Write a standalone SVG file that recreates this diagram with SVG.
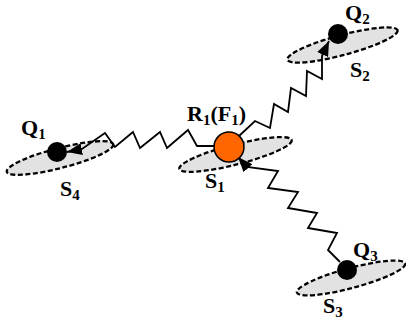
<svg xmlns="http://www.w3.org/2000/svg" width="406" height="325" viewBox="0 0 406 325">
<style>
.ell{fill:#e2e2e2;stroke:#000;stroke-width:2.3;stroke-dasharray:5 2.5}
.conn{fill:none;stroke:#000;stroke-width:1.8;stroke-linejoin:miter;marker-end:url(#arr)}
.dot{fill:#000}
.lbl{font-family:"Liberation Serif","Times New Roman",serif;font-weight:bold;font-size:22px;fill:#000}
.sub{font-size:15px}
</style>
<defs>
<marker id="arr" markerUnits="userSpaceOnUse" viewBox="0 0 15 12" refX="15" refY="6" markerWidth="15" markerHeight="12" orient="auto">
<path d="M0,0 L15,6 L0,12 z" fill="#000"/>
</marker>
</defs>
<g id="sets">
<ellipse id="S4" class="ell" cx="60" cy="158" rx="55" ry="10" transform="rotate(-14.5 60 158)"/>
<ellipse id="S1" class="ell" cx="235.5" cy="154.5" rx="58" ry="10" transform="rotate(-14.4 235.5 154.5)"/>
<ellipse id="S2" class="ell" cx="342.5" cy="45" rx="57" ry="10" transform="rotate(-15 342.5 45)"/>
<ellipse id="S3" class="ell" cx="351" cy="278" rx="56" ry="10" transform="rotate(-15 351 278)"/>
</g>
<g id="connectors">
<path class="conn" d="M215,146 L197,146 L188,130 L167,148 L160,132 L140,148 L133,132 L115,147 L105,133 L82,149 L67,152"/>
<path class="conn" d="M239,136 L255,121 L270,128 L274,104 L288,112 L291,88 L306,96 L307,71 L322,79 L322,56 L329,41"/>
<path class="conn" d="M340,262 L328,250 L337,233 L308,228 L317,213 L288,208 L298,192 L268,188 L278,171 L247,167 L238,157"/>
</g>
<g id="Q1">
<circle class="dot" cx="57" cy="152" r="10"/>
<text class="lbl" x="21" y="135">Q<tspan class="sub" dy="4">1</tspan></text>
</g>
<g id="Q2">
<circle class="dot" cx="338" cy="34" r="10"/>
<text class="lbl" x="345" y="20">Q<tspan class="sub" dy="4">2</tspan></text>
</g>
<g id="Q3">
<circle class="dot" cx="347" cy="270" r="10"/>
<text class="lbl" x="353" y="257">Q<tspan class="sub" dy="4">3</tspan></text>
</g>
<g id="R1">
<circle cx="229" cy="147" r="15" fill="#FF6600" stroke="#000" stroke-width="1.5"/>
<text class="lbl" x="187" y="121">R<tspan class="sub" dy="4">1</tspan><tspan dy="-4">(F</tspan><tspan class="sub" dy="4">1</tspan><tspan dy="-4">)</tspan></text>
</g>
<g id="set-labels">
<text class="lbl" x="60" y="196">S<tspan class="sub" dy="4">4</tspan></text>
<text class="lbl" x="205" y="188">S<tspan class="sub" dy="4">1</tspan></text>
<text class="lbl" x="350" y="77">S<tspan class="sub" dy="4">2</tspan></text>
<text class="lbl" x="323" y="313">S<tspan class="sub" dy="4">3</tspan></text>
</g>
</svg>
